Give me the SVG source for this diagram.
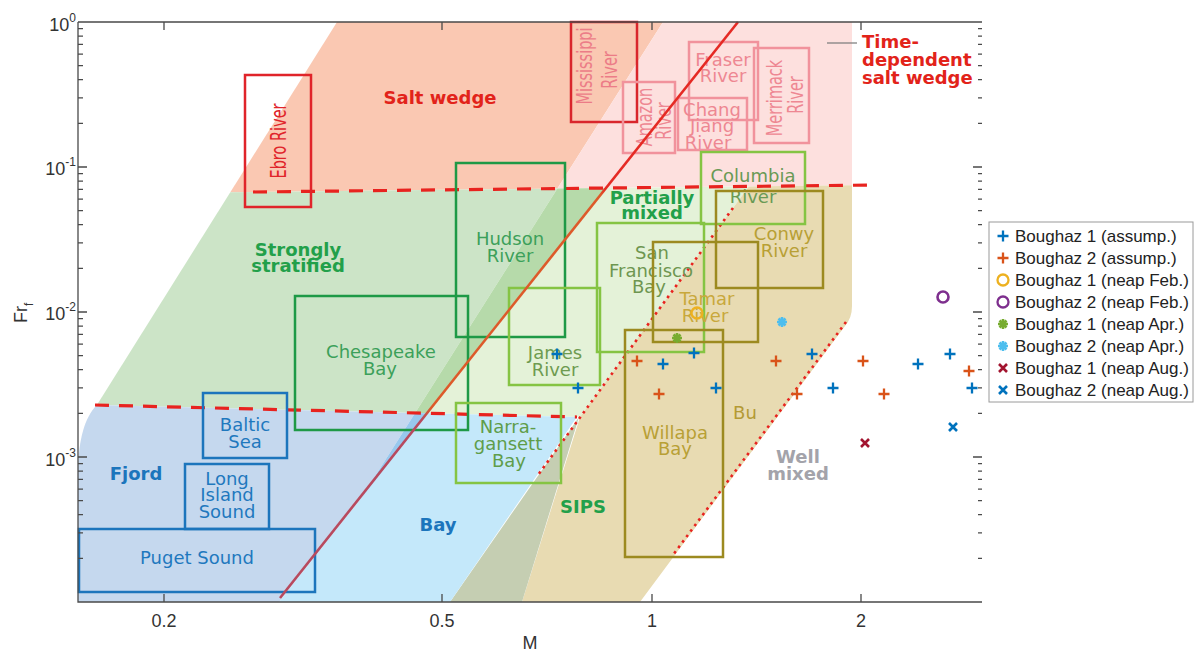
<svg xmlns="http://www.w3.org/2000/svg" width="1202" height="651" viewBox="0 0 1202 651">
<defs>
<style>
.ax{stroke:#4a4a4a;stroke-width:1.3;fill:none}
.tk{font-family:"Liberation Sans",Arial,sans-serif;font-size:18px;fill:#333}
.rl{font-family:"DejaVu Sans",Verdana,sans-serif;font-weight:bold;font-size:18px;text-anchor:middle}
.el{font-family:"DejaVu Sans",Verdana,sans-serif;font-size:18px;text-anchor:middle}
.vl{font-family:"DejaVu Sans",Verdana,sans-serif;font-size:14.5px;text-anchor:middle}
.bx{fill:none;stroke-width:2.5}
.lg{font-family:"Liberation Sans",Arial,sans-serif;font-size:17px;fill:#222}
.dash{fill:none;stroke:#e8231f;stroke-width:3.2;stroke-dasharray:14 10}
.dot{fill:none;stroke:#e8231f;stroke-width:2.6;stroke-dasharray:2.6 4.2}
.red{stroke:#e0242a}.pk{stroke:#f1929c}.dg{stroke:#1e9946}.lgr{stroke:#85c443}.ol{stroke:#9c8a20}.bl{stroke:#1c75bc}
.mk{fill:none;stroke-width:2.3}
</style>
<linearGradient id="rg" gradientUnits="userSpaceOnUse" x1="738" y1="22" x2="280" y2="598">
<stop offset="0" stop-color="#e52a24"/><stop offset="0.29" stop-color="#e52a24"/>
<stop offset="0.3" stop-color="#dd5a2a"/><stop offset="0.67" stop-color="#dd5a2a"/>
<stop offset="0.69" stop-color="#b84a5e"/><stop offset="1" stop-color="#b84a5e"/>
</linearGradient>
<path id="plus" d="M-5.5,0H5.5M0,-5.5V5.5"/>
<circle id="circ" r="5.5"/>
<path id="ast" d="M-5,0H5M0,-5V5M-3.5,-3.5L3.5,3.5M-3.5,3.5L3.5,-3.5"/>
<path id="xm" d="M-4,-4L4,4M-4,4L4,-4"/>
</defs>
<rect width="1202" height="651" fill="#fff"/>

<g id="regions" stroke="none">
<polygon fill="#fac8b2" points="337,22 663,22 557.4,188.6 230.3,192.2"/>
<polygon fill="#fde0de" points="663,22 852,22 852,185.2 557.4,188.6"/>
<polygon fill="#cce4c7" points="230.3,192.2 557.4,188.6 415.1,413 96.9,405"/>
<polygon fill="#b6daaa" points="557.4,188.6 606.6,188 428.3,413.3 415.1,413"/>
<polygon fill="#e4f2d8" points="606.6,188 748.8,186.4 580,417.1 428.3,413.3"/>
<path fill="#e8dbb2" d="M748.8,186.4 L852,185.2 L852,306 Q852,318 845,326 L640,602 L522,602 L580,417.1 Z"/>
<polygon fill="#c5ceb2" points="450,602 522,602 579,417"/>
<polygon fill="#c4e8fa" points="428.3,413.3 577,417 450,602 279,602"/>
<path fill="#c5d8ee" d="M96.9,405 L415.1,413 L360.6,499 L279,602 L78,602 L78,468 C79,440 84,418 96.9,405 Z"/>
<polygon fill="#98c8ee" points="415.1,413 428.3,413.3 360.6,499"/>
</g>

<g id="connectors">
<path class="dash" d="M253,192 L873,185"/>
<path class="dash" d="M95,405 L577,417"/>
<path class="dot" d="M733,208 L538,475"/>
<path class="dot" d="M846,322 L673,555"/>
<path d="M827,43 H857" stroke="#777" stroke-width="1.2"/>
</g>

<g id="region-labels">
<text class="rl" x="440" y="104" fill="#e2231a">Salt wedge</text>
<text class="rl" x="862" y="48" fill="#e2231a" style="text-anchor:start">Time-</text>
<text class="rl" x="862" y="66" fill="#e2231a" style="text-anchor:start">dependent</text>
<text class="rl" x="862" y="84" fill="#e2231a" style="text-anchor:start">salt wedge</text>
<text class="rl" x="298" y="256" fill="#22a04a">Strongly</text>
<text class="rl" x="298" y="272" fill="#22a04a">stratified</text>
<text class="rl" x="652" y="204" fill="#22a04a">Partially</text>
<text class="rl" x="652" y="219" fill="#22a04a">mixed</text>
<text class="rl" x="136" y="480" fill="#1c75bc">Fjord</text>
<text class="rl" x="438" y="531" fill="#1c75bc">Bay</text>
<text class="rl" x="583" y="513" fill="#22a04a">SIPS</text>
<text class="el" x="745" y="419" fill="#b49a35">Bu</text>
<text class="rl" x="798" y="463" fill="#a3a3aa">Well</text>
<text class="rl" x="798" y="480" fill="#a3a3aa">mixed</text>
</g>

<g id="ebro"><rect class="bx red" x="245" y="75" width="66" height="132"/>
<text class="vl" transform="translate(286,141) rotate(-90) scale(1,1.5)" font-size="14" fill="#e0242a">Ebro River</text></g>
<g id="mississippi"><rect class="bx" stroke="#d9262c" x="571" y="22" width="66" height="100"/>
<text class="vl" transform="translate(592,66) rotate(-90) scale(1,1.5)" fill="#ec7c87">Mississippi</text>
<text class="vl" transform="translate(617,70) rotate(-90) scale(1,1.5)" font-size="14" fill="#ec7c87">River</text></g>
<g id="amazon"><rect class="bx pk" x="623" y="82" width="52" height="71"/>
<text class="vl" transform="translate(652,117) rotate(-90) scale(1,1.5)" font-size="15" fill="#ee8792">Amazon</text>
<text class="vl" transform="translate(671,121) rotate(-90) scale(1,1.5)" fill="#ee8792">River</text></g>
<g id="fraser"><rect class="bx pk" x="689" y="42" width="69" height="78"/>
<text class="el" x="723" y="66" fill="#ee8792">Fraser</text>
<text class="el" x="723" y="82" fill="#ee8792">River</text></g>
<g id="changjiang"><rect class="bx pk" x="678" y="98" width="69" height="52"/>
<text class="el" x="712" y="116" fill="#ee8792">Chang</text>
<text class="el" x="712" y="132" fill="#ee8792">Jiang</text>
<text class="el" x="708" y="149" fill="#ee8792">River</text></g>
<g id="merrimack"><rect class="bx pk" x="754" y="48" width="55" height="95"/>
<text class="vl" transform="translate(782,98) rotate(-90) scale(1,1.5)" font-size="14.7" fill="#ee8792">Merrimack</text>
<text class="vl" transform="translate(803,95) rotate(-90) scale(1,1.5)" font-size="14" fill="#ee8792">River</text></g>
<g id="hudson"><rect class="bx dg" x="456" y="163" width="109" height="174"/>
<text class="el" x="510" y="245" fill="#3ca05a">Hudson</text>
<text class="el" x="510" y="262" fill="#3ca05a">River</text></g>
<g id="chesapeake"><rect class="bx dg" x="295" y="296" width="173" height="134"/>
<text class="el" x="381" y="358" fill="#3ca05a">Chesapeake</text>
<text class="el" x="380" y="375" fill="#3ca05a">Bay</text></g>
<g id="columbia"><rect class="bx lgr" x="701" y="152" width="104" height="72"/>
<text class="el" x="753" y="182" fill="#6a9a55">Columbia</text>
<text class="el" x="753" y="203" fill="#6a9a55">River</text></g>
<g id="sanfrancisco"><rect class="bx lgr" x="597" y="223" width="107" height="129"/>
<text class="el" x="652" y="259" fill="#6e9650">San</text>
<text class="el" x="651" y="277" fill="#6e9650">Francisco</text>
<text class="el" x="649" y="293" fill="#6e9650">Bay</text></g>
<g id="james"><rect class="bx lgr" x="509" y="288" width="91" height="97"/>
<text class="el" x="555" y="359" fill="#6e9b50">James</text>
<text class="el" x="555" y="376" fill="#6e9b50">River</text></g>
<g id="narragansett"><rect class="bx lgr" x="456" y="403" width="105" height="80"/>
<text class="el" x="508" y="433" fill="#5f9d4a">Narra-</text>
<text class="el" x="508" y="450" fill="#5f9d4a">gansett</text>
<text class="el" x="509" y="467" fill="#5f9d4a">Bay</text></g>
<g id="conwy"><rect class="bx ol" x="716" y="191" width="107" height="97"/>
<text class="el" x="784" y="240" fill="#b8a035">Conwy</text>
<text class="el" x="784" y="257" fill="#b8a035">River</text></g>
<g id="tamar"><rect class="bx ol" x="653" y="242" width="105" height="100"/>
<text class="el" x="707" y="305" fill="#c8a83c">Tamar</text>
<text class="el" x="705" y="322" fill="#c8a83c">River</text></g>
<g id="willapa"><rect class="bx ol" x="625" y="330" width="98" height="227"/>
<text class="el" x="675" y="439" fill="#b8a035">Willapa</text>
<text class="el" x="675" y="455" fill="#b8a035">Bay</text></g>
<g id="baltic"><rect class="bx bl" x="203" y="393" width="84" height="65"/>
<text class="el" x="245" y="431" fill="#1f78be">Baltic</text>
<text class="el" x="245" y="448" fill="#1f78be">Sea</text></g>
<g id="longisland"><rect class="bx bl" x="185" y="464" width="84" height="65"/>
<text class="el" x="227" y="485" fill="#1f78be">Long</text>
<text class="el" x="227" y="501" fill="#1f78be">Island</text>
<text class="el" x="227" y="518" fill="#1f78be">Sound</text></g>
<g id="puget"><rect class="bx bl" x="79" y="529" width="236" height="63"/>
<text class="el" x="197" y="564" fill="#1f78be">Puget Sound</text></g>

<g id="criterion-line">
<path d="M738,22 L280,598" stroke="url(#rg)" stroke-width="2.6" fill="none"/>
</g>

<g id="data" class="mk">
<g stroke="#0072BD">
<use href="#plus" x="557" y="354"/><use href="#plus" x="578" y="388"/><use href="#plus" x="663" y="364"/>
<use href="#plus" x="694" y="353"/><use href="#plus" x="716" y="388"/><use href="#plus" x="812" y="354"/>
<use href="#plus" x="833" y="388"/><use href="#plus" x="918" y="364"/><use href="#plus" x="950" y="354"/>
<use href="#plus" x="972" y="388"/>
</g>
<g stroke="#D95319">
<use href="#plus" x="637" y="361"/><use href="#plus" x="659" y="394"/><use href="#plus" x="776" y="361"/>
<use href="#plus" x="797" y="394"/><use href="#plus" x="863" y="361"/><use href="#plus" x="884" y="394"/>
<use href="#plus" x="969" y="371"/>
</g>
<use href="#circ" x="697" y="313" stroke="#EDB120"/>
<use href="#circ" x="943" y="297" stroke="#7E2F8E" stroke-width="2.6"/>
<use href="#ast" x="677" y="338" stroke="#77AC30" stroke-width="2.6"/>
<use href="#ast" x="782" y="322" stroke="#4DBEEE" stroke-width="2.6"/>
<use href="#xm" x="865" y="443" stroke="#A2142F" stroke-width="2.6"/>
<use href="#xm" x="953" y="427" stroke="#0072BD" stroke-width="2.6"/>
</g>

<g id="axes">
<path class="ax" d="M78,22 V602 H982 M78,22 H982"/>
<path class="ax" d="M78,167h9M78,312h9M78,457h9
M78,558.35h5M78,532.82h5M78,514.7h5M78,500.65h5M78,489.17h5M78,479.46h5M78,471.05h5M78,463.63h5
M78,413.35h5M78,387.82h5M78,369.7h5M78,355.65h5M78,344.17h5M78,334.46h5M78,326.05h5M78,318.63h5
M78,268.35h5M78,242.82h5M78,224.7h5M78,210.65h5M78,199.17h5M78,189.46h5M78,181.05h5M78,173.63h5
M78,123.35h5M78,97.82h5M78,79.7h5M78,65.65h5M78,54.17h5M78,44.46h5M78,36.05h5M78,28.63h5
M982,167h-9M982,312h-9M982,457h-9
M982,558.35h-4M982,532.82h-4M982,514.7h-4M982,500.65h-4M982,489.17h-4M982,479.46h-4M982,471.05h-4M982,463.63h-4
M982,413.35h-4M982,387.82h-4M982,369.7h-4M982,355.65h-4M982,344.17h-4M982,334.46h-4M982,326.05h-4M982,318.63h-4
M982,268.35h-4M982,242.82h-4M982,224.7h-4M982,210.65h-4M982,199.17h-4M982,189.46h-4M982,181.05h-4M982,173.63h-4
M982,123.35h-4M982,97.82h-4M982,79.7h-4M982,65.65h-4M982,54.17h-4M982,44.46h-4M982,36.05h-4M982,28.63h-4
M164,602v-8M442,602v-8M652,602v-8M861,602v-8
M164,22v8M442,22v8M652,22v8M861,22v8"/>
<text class="tk" x="76" y="31" text-anchor="end">10<tspan dy="-9" font-size="12">0</tspan></text>
<text class="tk" x="76" y="175" text-anchor="end">10<tspan dy="-9" font-size="12">-1</tspan></text>
<text class="tk" x="76" y="320" text-anchor="end">10<tspan dy="-9" font-size="12">-2</tspan></text>
<text class="tk" x="76" y="466" text-anchor="end">10<tspan dy="-9" font-size="12">-3</tspan></text>
<text class="tk" x="164" y="627" text-anchor="middle">0.2</text>
<text class="tk" x="442" y="627" text-anchor="middle">0.5</text>
<text class="tk" x="652" y="627" text-anchor="middle">1</text>
<text class="tk" x="861" y="627" text-anchor="middle">2</text>
<text class="tk" x="530" y="649" text-anchor="middle">M</text>
<text class="tk" transform="translate(27,323) rotate(-90)">Fr<tspan dy="6" font-size="12">f</tspan></text>
</g>

<g id="legend">
<rect x="989" y="222" width="204" height="180" fill="#fff" stroke="#9a9a9a" stroke-width="1"/>
<g class="mk">
<use href="#plus" x="1003" y="236" stroke="#0072BD"/>
<use href="#plus" x="1003" y="258" stroke="#D95319"/>
<use href="#circ" x="1003" y="280" stroke="#EDB120"/>
<use href="#circ" x="1003" y="302" stroke="#7E2F8E"/>
<use href="#ast" x="1003" y="324" stroke="#77AC30" stroke-width="2.6"/>
<use href="#ast" x="1003" y="346" stroke="#4DBEEE" stroke-width="2.6"/>
<use href="#xm" x="1003" y="368" stroke="#A2142F" stroke-width="2.6"/>
<use href="#xm" x="1003" y="390" stroke="#0072BD" stroke-width="2.6"/>
</g>
<text class="lg" x="1015" y="242">Boughaz 1 (assump.)</text>
<text class="lg" x="1015" y="264">Boughaz 2 (assump.)</text>
<text class="lg" x="1015" y="286">Boughaz 1 (neap Feb.)</text>
<text class="lg" x="1015" y="308">Boughaz 2 (neap Feb.)</text>
<text class="lg" x="1015" y="330">Boughaz 1 (neap Apr.)</text>
<text class="lg" x="1015" y="352">Boughaz 2 (neap Apr.)</text>
<text class="lg" x="1015" y="374">Boughaz 1 (neap Aug.)</text>
<text class="lg" x="1015" y="396">Boughaz 2 (neap Aug.)</text>
</g>
</svg>
